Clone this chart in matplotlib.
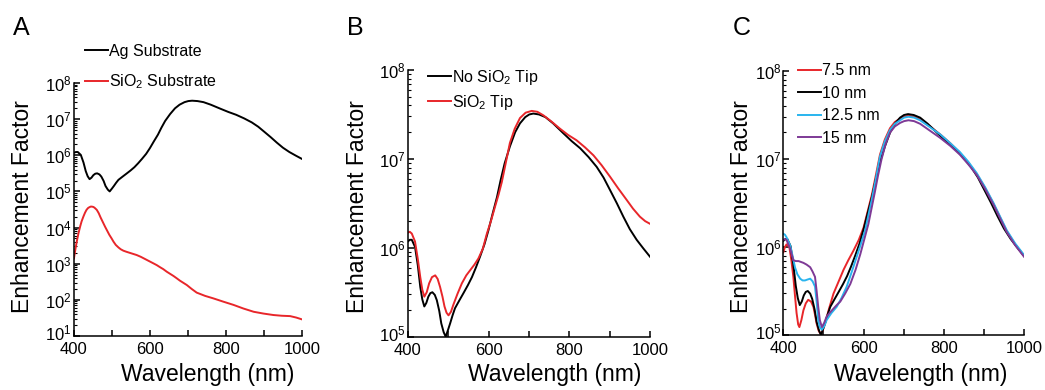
import matplotlib
matplotlib.use("Agg")
import matplotlib.pyplot as plt
import matplotlib.transforms as mtransforms
import numpy as np
from matplotlib.ticker import LogLocator, FixedLocator, LogFormatterSciNotation, NullFormatter

plt.rcParams["font.family"] = ["Liberation Sans", "DejaVu Sans"]
plt.rcParams["mathtext.default"] = "regular"

# Black curve (Ag substrate / no SiO2 tip / 10 nm) - log10(EF)
wl_ag = [400, 405, 410, 418, 425, 431, 436, 441, 446, 451, 456, 461, 467, 472, 478, 483, 489, 494,
         500, 505, 511, 517, 528, 538, 549, 559, 569, 579, 590, 600, 610, 621, 630, 640, 653, 666,
         678, 691, 701, 711, 725, 741, 760, 785, 806, 827, 848, 868, 885, 901, 918, 934, 950, 967,
         984, 1000]
log_ag = [6.07, 6.09, 6.09, 6.01, 5.80, 5.56, 5.42, 5.34, 5.38, 5.45, 5.49, 5.50, 5.47, 5.41, 5.29,
          5.15, 5.05, 5.00, 5.08, 5.15, 5.24, 5.32, 5.41, 5.49, 5.58, 5.67, 5.78, 5.90, 6.04, 6.20,
          6.38, 6.57, 6.76, 6.95, 7.14, 7.30, 7.40, 7.47, 7.50, 7.51, 7.50, 7.47, 7.40, 7.29, 7.20,
          7.12, 7.02, 6.91, 6.79, 6.65, 6.50, 6.35, 6.21, 6.09, 5.99, 5.90]

# SiO2 substrate (panel A)
wl_sio2_sub = [400, 404, 408, 412, 416, 420, 425, 429, 433, 437, 440, 444, 447, 451, 454, 457, 460,
               465, 470, 476, 482, 488, 493, 499, 504, 510, 517, 523, 530, 538, 547, 556, 565, 576,
               587, 598, 609, 618, 627, 635, 644, 653, 662, 670, 679, 688, 697, 710, 723, 745, 767,
               793, 820, 846, 873, 899, 925, 947, 969, 985, 1000]
log_sio2_sub = [3.15, 3.42, 3.65, 3.85, 4.02, 4.17, 4.31, 4.41, 4.49, 4.54, 4.56, 4.58, 4.58, 4.57,
                4.55, 4.52, 4.49, 4.40, 4.28, 4.15, 4.02, 3.90, 3.80, 3.70, 3.61, 3.52, 3.45, 3.40,
                3.36, 3.33, 3.30, 3.27, 3.24, 3.19, 3.13, 3.07, 3.01, 2.96, 2.90, 2.85, 2.78, 2.72,
                2.66, 2.60, 2.53, 2.47, 2.41, 2.30, 2.20, 2.11, 2.04, 1.95, 1.86, 1.76, 1.67, 1.62,
                1.58, 1.56, 1.55, 1.51, 1.46]

# SiO2 tip (panel B)
wl_sio2_tip = [400, 405, 410, 418, 425, 431, 436, 441, 447, 453, 460, 468, 474, 480, 486, 491, 496,
               501, 507, 513, 523, 534, 545, 555, 565, 575, 586, 596, 606, 616, 625, 633, 643, 653,
               665, 678, 692, 707, 721, 736, 756, 777, 797, 818, 839, 860, 880, 901, 921, 942, 958,
               975, 988, 1000]
log_sio2_tip = [6.17, 6.18, 6.16, 6.07, 5.87, 5.67, 5.53, 5.45, 5.50, 5.60, 5.67, 5.69, 5.65, 5.56,
                5.45, 5.34, 5.27, 5.24, 5.28, 5.36, 5.48, 5.60, 5.69, 5.75, 5.81, 5.88, 5.99, 6.16,
                6.30, 6.46, 6.60, 6.74, 6.96, 7.18, 7.34, 7.46, 7.52, 7.54, 7.53, 7.49, 7.42, 7.34,
                7.27, 7.21, 7.13, 7.04, 6.93, 6.80, 6.67, 6.54, 6.44, 6.35, 6.30, 6.27]

# Panel C: gap sizes (10 nm uses the black curve above)
wl_75 = [400, 404, 408, 415, 420, 425, 429, 433, 437, 440, 445, 450, 456, 462, 469, 475, 479, 483,
         488, 493, 498, 504, 514, 525, 538, 550, 562, 575, 588, 600, 610, 621, 630, 641, 653, 666,
         678, 691, 701, 712, 726, 741, 766, 791, 816, 840, 861, 882, 903, 924, 941, 957, 978, 1000]
log_75 = [5.94, 6.00, 6.03, 6.00, 5.85, 5.66, 5.45, 5.25, 5.12, 5.09, 5.17, 5.28, 5.36, 5.40, 5.38,
          5.32, 5.23, 5.13, 5.05, 5.01, 5.05, 5.13, 5.30, 5.47, 5.61, 5.74, 5.85, 5.96, 6.08, 6.22,
          6.40, 6.60, 6.80, 7.05, 7.22, 7.35, 7.42, 7.46, 7.48, 7.49, 7.48, 7.45, 7.37, 7.28, 7.18,
          7.07, 6.96, 6.83, 6.67, 6.49, 6.33, 6.18, 6.03, 5.90]

wl_125 = [400, 404, 408, 417, 423, 429, 435, 442, 448, 454, 460, 467, 473, 479, 483, 487, 491, 496,
          502, 508, 520, 533, 545, 558, 570, 583, 593, 604, 612, 621, 630, 641, 653, 666, 678, 691,
          701, 712, 726, 741, 766, 791, 816, 840, 861, 882, 903, 924, 941, 957, 978, 1000]
log_125 = [6.15, 6.14, 6.11, 6.02, 5.90, 5.77, 5.69, 5.64, 5.62, 5.62, 5.63, 5.64, 5.61, 5.55, 5.38,
           5.17, 5.09, 5.06, 5.10, 5.17, 5.25, 5.32, 5.42, 5.55, 5.71, 5.89, 6.03, 6.19, 6.36, 6.55,
           6.76, 7.03, 7.20, 7.33, 7.40, 7.44, 7.47, 7.48, 7.47, 7.44, 7.36, 7.28, 7.18, 7.08, 6.97,
           6.84, 6.68, 6.50, 6.34, 6.19, 6.04, 5.91]

wl_15 = [400, 404, 408, 417, 425, 431, 438, 444, 450, 458, 467, 473, 479, 483, 487, 491, 496, 502,
         508, 517, 525, 533, 542, 554, 567, 580, 592, 602, 612, 620, 628, 636, 645, 655, 666, 678,
         691, 701, 712, 726, 741, 766, 791, 816, 840, 861, 882, 903, 924, 941, 957, 978, 1000]
log_15 = [6.08, 6.09, 6.08, 5.98, 5.85, 5.84, 5.84, 5.83, 5.82, 5.80, 5.77, 5.72, 5.66, 5.50, 5.32,
          5.17, 5.09, 5.14, 5.21, 5.26, 5.30, 5.34, 5.38, 5.47, 5.58, 5.74, 5.92, 6.09, 6.26, 6.44,
          6.62, 6.81, 7.00, 7.17, 7.30, 7.37, 7.41, 7.43, 7.44, 7.43, 7.40, 7.32, 7.24, 7.15, 7.05,
          6.94, 6.82, 6.66, 6.48, 6.32, 6.17, 6.02, 5.89]

RED = "#e8262a"
CYAN = "#29b4ee"
PURPLE = "#7e3a96"

fig = plt.figure(figsize=(10.45, 3.9), dpi=100)

ax_a = fig.add_axes([0.0708, 0.1385, 0.2181, 0.6487])
ax_b = fig.add_axes([0.3902, 0.1367, 0.2318, 0.6838])
ax_c = fig.add_axes([0.7496, 0.1410, 0.2303, 0.6770])


def style_axis(ax, ymin, ymax):
    ax.set_yscale("log")
    ax.set_xlim(400, 1000)
    ax.set_ylim(10.0 ** ymin, 10.0 ** ymax)
    for side in ["top", "right"]:
        ax.spines[side].set_visible(False)
    for side in ["left", "bottom"]:
        ax.spines[side].set_linewidth(1.1)
    ax.xaxis.set_major_locator(FixedLocator([400, 500, 600, 700, 800, 900, 1000]))
    ax.set_xticklabels(["400", "", "600", "", "800", "", "1000"])
    ax.yaxis.set_major_locator(FixedLocator(10.0 ** np.arange(ymin, ymax + 1)))
    ax.yaxis.set_minor_locator(LogLocator(base=10, subs=np.arange(2, 10), numticks=20))
    ax.yaxis.set_major_formatter(LogFormatterSciNotation())
    ax.yaxis.set_minor_formatter(NullFormatter())
    ax.tick_params(axis="x", direction="in", length=4, width=1.1, labelsize=12, pad=4.5)
    ax.tick_params(axis="y", which="major", direction="in", length=4, width=1.1,
                   labelsize=12, pad=1.5)
    ax.tick_params(axis="y", which="minor", direction="in", length=2, width=0.8)


lw = 1.4

# Panel A
ax_a.plot(wl_ag, 10.0 ** np.array(log_ag), color="black", lw=lw, label="Ag Substrate")
ax_a.plot(wl_sio2_sub, 10.0 ** np.array(log_sio2_sub), color=RED, lw=lw, label="SiO$_2$ Substrate")
style_axis(ax_a, 1, 8)
ax_a.legend(loc="upper left", bbox_to_anchor=(0.0813, 0.888), bbox_transform=fig.transFigure,
            frameon=False, fontsize=11.5, handlelength=1.45, handletextpad=0.05,
            borderpad=0, borderaxespad=0, labelspacing=0.85)

# Panel B
ax_b.plot(wl_ag, 10.0 ** np.array(log_ag), color="black", lw=lw, label="No SiO$_2$ Tip")
ax_b.plot(wl_sio2_tip, 10.0 ** np.array(log_sio2_tip), color=RED, lw=lw, label="SiO$_2$ Tip")
style_axis(ax_b, 5, 8)
ax_b.legend(loc="upper left", bbox_to_anchor=(0.4096, 0.826), bbox_transform=fig.transFigure,
            frameon=False, fontsize=11.5, handlelength=1.45, handletextpad=0.05,
            borderpad=0, borderaxespad=0, labelspacing=0.38)

# Panel C
ax_c.plot(wl_75, 10.0 ** np.array(log_75), color=RED, lw=lw, label="7.5 nm")
ax_c.plot(wl_ag, 10.0 ** np.array(log_ag), color="black", lw=lw, label="10 nm")
ax_c.plot(wl_125, 10.0 ** np.array(log_125), color=CYAN, lw=lw, label="12.5 nm")
ax_c.plot(wl_15, 10.0 ** np.array(log_15), color=PURPLE, lw=lw, label="15 nm")
style_axis(ax_c, 5, 8)
ax_c.legend(loc="upper left", bbox_to_anchor=(0.7636, 0.838), bbox_transform=fig.transFigure,
            frameon=False, fontsize=11.5, handlelength=1.45, handletextpad=0.05,
            borderpad=0, borderaxespad=0, labelspacing=0.47)

# Axis labels and panel letters
for xc in [207.5 / 1045, 555 / 1045, 921 / 1045]:
    fig.text(xc, 1 - 374 / 390, "Wavelength (nm)", ha="center", va="center", fontsize=16.5)
for xc in [22.5 / 1045, 357 / 1045, 741 / 1045]:
    fig.text(xc, 1 - 207 / 390, "Enhancement Factor", ha="center", va="center",
             rotation=90, fontsize=16.5)
for xl, letter in [(13, "A"), (347, "B"), (733, "C")]:
    fig.text(xl / 1045, 1 - 35 / 390, letter, ha="left", va="baseline", fontsize=18)

# Nudge the lowest y label up a touch so it sits clear of the "400" label
fig.canvas.draw()
lift = mtransforms.ScaledTranslation(0, 3 / 72, fig.dpi_scale_trans)
for ax in [ax_a, ax_b, ax_c]:
    lbl = ax.yaxis.get_major_ticks()[0].label1
    lbl.set_transform(lbl.get_transform() + lift)

fig.savefig("out.png", dpi=100)
